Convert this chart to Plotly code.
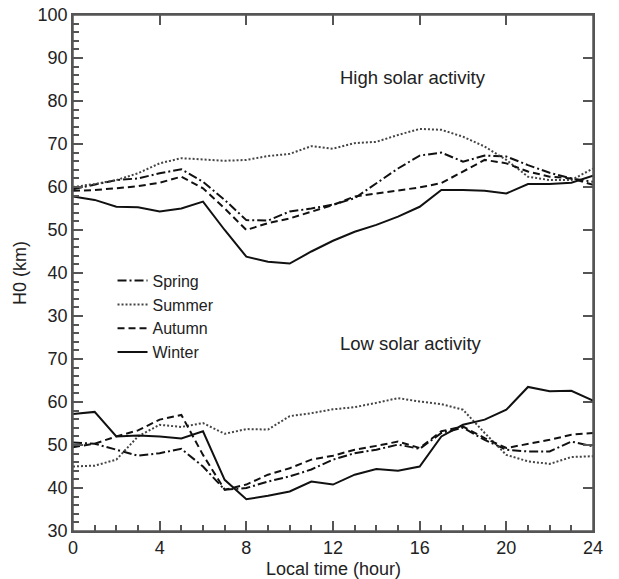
import plotly.graph_objects as go

hours = list(range(25))

# High solar activity (upper panel), H0 in km
high_spring = [59.5, 60.5, 61.6, 62.0, 63.2, 64.1, 61.2, 57.0, 52.3, 52.2, 54.3, 55.0, 55.9,
               57.4, 60.9, 64.3, 67.3, 68.0, 65.9, 67.3, 67.1, 65.1, 63.3, 62.0, 61.2]
high_summer = [60.0, 60.7, 61.6, 63.2, 65.5, 66.7, 66.4, 66.1, 66.3, 67.2, 67.7, 69.5, 68.9,
               70.2, 70.5, 72.1, 73.5, 73.3, 71.7, 69.4, 66.3, 62.4, 61.6, 61.6, 64.3]
high_autumn = [59.1, 59.3, 59.7, 60.2, 61.0, 62.4, 59.7, 55.0, 50.0, 51.6, 52.7, 54.3, 55.8,
               57.8, 58.5, 59.3, 59.9, 60.9, 63.6, 66.3, 65.5, 63.6, 62.4, 62.0, 60.5]
high_winter = [57.8, 57.0, 55.4, 55.3, 54.3, 55.0, 56.6, 50.0, 43.8, 42.6, 42.2, 45.0, 47.5,
               49.6, 51.2, 53.1, 55.4, 59.3, 59.3, 59.1, 58.5, 60.7, 60.7, 61.0, 62.6]

# Low solar activity (lower panel), H0 in km
low_spring = [50.6, 50.3, 48.9, 47.5, 48.1, 49.1, 45.0, 39.6, 40.0, 41.5, 42.7, 44.3, 46.6,
              48.1, 48.9, 50.1, 49.1, 52.8, 54.0, 51.2, 48.9, 48.5, 48.5, 50.8, 49.7]
low_summer = [45.0, 45.2, 46.6, 52.0, 54.7, 54.2, 55.1, 52.6, 53.7, 53.6, 56.7, 57.4, 58.3,
              58.8, 59.8, 60.9, 60.1, 59.5, 58.2, 52.8, 47.7, 46.2, 45.6, 47.2, 47.4]
low_autumn = [49.5, 50.3, 52.0, 53.4, 55.9, 57.0, 47.7, 39.6, 40.8, 43.1, 44.6, 46.6, 47.5,
              48.9, 49.8, 50.8, 49.3, 53.2, 54.3, 51.6, 49.3, 50.3, 51.2, 52.4, 52.8]
low_winter = [57.2, 57.7, 52.0, 52.2, 52.0, 51.5, 53.2, 41.9, 37.4, 38.2, 39.2, 41.5, 40.8,
              43.1, 44.4, 44.0, 45.0, 52.0, 54.7, 55.9, 58.2, 63.5, 62.5, 62.6, 60.3]

season_names = ["Spring", "Summer", "Autumn", "Winter"]
x_ticks = [0, 4, 8, 12, 16, 20, 24]
upper_ticks = [30, 40, 50, 60, 70, 80, 90, 100]
lower_ticks = [30, 40, 50, 60, 70]

styles = {
    "Spring": dict(color="#111111", width=2, dash="9px,3px,2px,3px"),
    "Summer": dict(color="#444444", width=2, dash="2px,2px"),
    "Autumn": dict(color="#111111", width=2, dash="7px,4px"),
    "Winter": dict(color="#111111", width=2),
}

fig = go.Figure()
for name, hi, lo in zip(season_names,
                        [high_spring, high_summer, high_autumn, high_winter],
                        [low_spring, low_summer, low_autumn, low_winter]):
    fig.add_trace(go.Scatter(x=hours, y=hi, mode="lines", name=name,
                             line=styles[name], xaxis="x", yaxis="y"))
    fig.add_trace(go.Scatter(x=hours, y=lo, mode="lines", name=name,
                             showlegend=False, line=styles[name], xaxis="x", yaxis="y2"))

axcol = "#555555"
font = "Liberation Sans, Arial, sans-serif"
tickfont = dict(family=font, size=18, color="#222222")

common_y = dict(showgrid=False, zeroline=False, showline=True, linecolor=axcol, linewidth=1.5,
                ticks="inside", ticklen=10, tickcolor=axcol, tickwidth=1.5, tickfont=tickfont,
                fixedrange=True, ticklabeloverflow="allow", automargin=False)

mirror_common = dict(showticklabels=False, showgrid=False, zeroline=False, showline=True,
                     linecolor=axcol, linewidth=1.5, ticks="inside", ticklen=10,
                     tickcolor=axcol, tickwidth=1.5, automargin=False)

fig.update_layout(
    width=619, height=579,
    margin=dict(l=73, r=26, t=15, b=48, autoexpand=False),
    paper_bgcolor="white", plot_bgcolor="white",
    showlegend=True,
    legend=dict(x=0.076, y=0.518, xanchor="left", yanchor="top", bgcolor="rgba(0,0,0,0)",
                font=dict(family=font, size=16, color="#222222"), tracegroupgap=0,
                itemwidth=30),
    xaxis=dict(domain=[0, 1], range=[0, 24], anchor="y2", tickvals=x_ticks, showgrid=False,
               zeroline=False, showline=True, linecolor=axcol, linewidth=1.5,
               ticks="inside", ticklen=10, tickcolor=axcol, tickwidth=1.5, tickfont=tickfont,
               ticklabeloverflow="allow", automargin=False,
               minor=dict(dtick=1, tick0=0, ticks="inside", ticklen=6, tickcolor=axcol,
                          showgrid=False)),
    xaxis2=dict(domain=[0, 1], range=[0, 24], anchor="y", overlaying="x", side="top",
                tickvals=x_ticks, **mirror_common),
    yaxis=dict(domain=[0.375, 1], range=[25, 100], anchor="x", tickvals=upper_ticks,
               minor=dict(dtick=2, tick0=0, ticks="inside", ticklen=6, tickcolor=axcol,
                          showgrid=False), **common_y),
    yaxis2=dict(domain=[0, 0.375], range=[30, 75], anchor="x", tickvals=lower_ticks,
                minor=dict(dtick=2, tick0=0, ticks="inside", ticklen=6, tickcolor=axcol,
                           showgrid=False), **common_y),
    yaxis3=dict(domain=[0.375, 1], range=[25, 100], anchor="x", overlaying="y", side="right",
                tickvals=upper_ticks, **mirror_common),
    yaxis4=dict(domain=[0, 0.375], range=[30, 75], anchor="x", overlaying="y2", side="right",
                tickvals=lower_ticks, **mirror_common),
    shapes=[dict(type="rect", xref="paper", yref="paper", x0=0, x1=1, y0=0, y1=1,
                 line=dict(color=axcol, width=1.5), layer="above")],
    annotations=[
        dict(text="High solar activity", xref="paper", yref="paper", x=0.654, y=0.878,
             xanchor="center", yanchor="middle", showarrow=False,
             font=dict(family=font, size=18.5, color="#222222")),
        dict(text="Low solar activity", xref="paper", yref="paper", x=0.65, y=0.364,
             xanchor="center", yanchor="middle", showarrow=False,
             font=dict(family=font, size=18.5, color="#222222")),
        dict(text="H0 (km)", xref="paper", yref="paper", x=-0.102, y=0.5, textangle=-90,
             xanchor="center", yanchor="middle", showarrow=False,
             font=dict(family=font, size=18, color="#222222")),
        dict(text="Local time (hour)", xref="paper", yref="paper", x=0.5, y=-0.074,
             xanchor="center", yanchor="middle", showarrow=False,
             font=dict(family=font, size=18, color="#222222")),
    ],
)

# dummy traces so overlay axes render
fig.add_trace(go.Scatter(x=[None], y=[None], xaxis="x2", yaxis="y3", showlegend=False,
                         hoverinfo="skip"))
fig.add_trace(go.Scatter(x=[None], y=[None], xaxis="x", yaxis="y4", showlegend=False,
                         hoverinfo="skip"))

fig.write_html("out.html", config={"displayModeBar": False},
               post_script="document.body.style.margin='0';document.body.style.overflow='hidden';")
